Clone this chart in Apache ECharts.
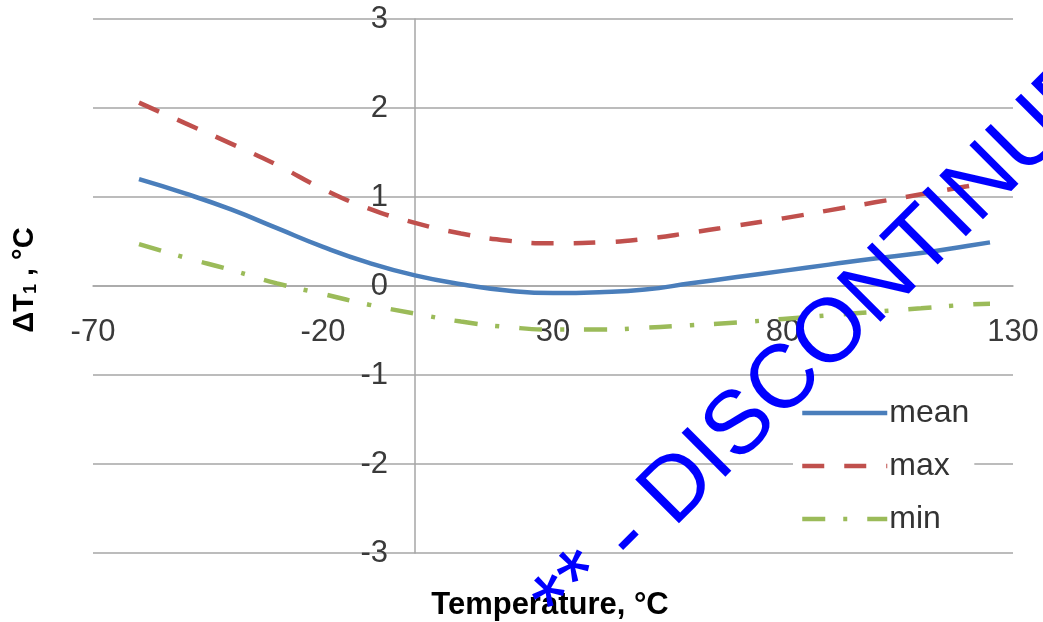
<!DOCTYPE html>
<html>
<head>
<meta charset="utf-8">
<script src="https://cdn.jsdelivr.net/npm/echarts@6/dist/echarts.min.js"></script>
<style>
  html, body { margin: 0; padding: 0; background: #fff; }
  #chart-container { width: 1043px; height: 622px; }
</style>
</head>
<body>
<div id="chart-container"></div>
<script>
// temperature, deg C
var temps = [-60, -50, -40, -30, -20, -10, 0, 10, 20, 30, 40, 50, 60, 70, 80, 90, 100, 110, 120, 125];
var meanVals = [1.20, 1.04, 0.86, 0.65, 0.44, 0.26, 0.12, 0.02, -0.05, -0.08, -0.07, -0.04, 0.03, 0.10, 0.17, 0.24, 0.31, 0.37, 0.45, 0.49];
var maxVals = [2.06, 1.83, 1.60, 1.36, 1.09, 0.87, 0.71, 0.59, 0.51, 0.48, 0.49, 0.53, 0.60, 0.68, 0.76, 0.85, 0.94, 1.03, 1.12, 1.17];
var minVals = [0.47, 0.32, 0.18, 0.03, -0.09, -0.21, -0.31, -0.40, -0.46, -0.49, -0.49, -0.47, -0.44, -0.41, -0.37, -0.33, -0.29, -0.25, -0.21, -0.20];
var seriesNames = ["mean", "max", "min"];

function pairs(vals) {
  return temps.map(function (t, i) { return [t, vals[i]]; });
}

var dom = document.getElementById("chart-container");
var myChart = echarts.init(dom);
var font = "'Liberation Sans', Arial, sans-serif";
var option = {
  backgroundColor: "#fff",
  animation: false,
  grid: { left: 93, right: 30, top: 19, bottom: 69 },
  legend: {
    orient: "vertical",
    left: 793,
    top: 393,
    padding: [4, 5, 4, 7],
    backgroundColor: "#fff",
    itemWidth: 85,
    itemHeight: 14,
    itemGap: 21,
    data: seriesNames,
    itemStyle: { opacity: 0 },
    lineStyle: { width: 4.5 },
    textStyle: { fontFamily: font, fontSize: 32, color: "#333", padding: [0, 0, 0, -3] }
  },
  xAxis: {
    type: "value",
    min: -70,
    max: 130,
    interval: 50,
    position: "bottom",
    offset: -267,
    axisLine: { onZero: false, lineStyle: { color: "#a6a6a6", width: 1.5 } },
    axisTick: { show: false },
    splitLine: { show: false },
    axisLabel: { margin: 31, fontFamily: font, fontSize: 31, color: "#3a3a3a" }
  },
  yAxis: {
    type: "value",
    min: -3,
    max: 3,
    interval: 1,
    position: "left",
    offset: -322,
    axisLine: { show: true, onZero: false, lineStyle: { color: "#a6a6a6", width: 1.5 } },
    axisTick: { show: false },
    splitLine: { lineStyle: { color: "#a6a6a6", width: 1.5 } },
    axisLabel: { margin: 27, fontFamily: font, fontSize: 31, color: "#3a3a3a" }
  },
  graphic: [
    {
      type: "text",
      x: 550,
      y: 605,
      style: {
        text: "Temperature, °C",
        font: "bold 31px " + font,
        fill: "#000",
        textAlign: "center",
        textVerticalAlign: "middle"
      }
    },
    {
      type: "text",
      x: 25,
      y: 280,
      rotation: Math.PI / 2,
      style: {
        text: "{a|ΔT}{s|1}{a| , °C}",
        textAlign: "center",
        textVerticalAlign: "middle",
        rich: {
          a: { fontFamily: font, fontWeight: "bold", fontSize: 29, color: "#000" },
          s: { fontFamily: font, fontWeight: "bold", fontSize: 18, color: "#000", padding: [12, 0, 0, 0] }
        }
      }
    },
    {
      type: "text",
      x: 550,
      y: 617,
      z: 100,
      rotation: Math.PI / 4,
      style: {
        text: "** - DISCONTINUED",
        font: "90px " + font,
        fill: "#0000ff",
        textAlign: "left",
        textVerticalAlign: "middle"
      }
    }
  ],
  series: [
    {
      name: "mean",
      type: "line",
      smooth: true,
      symbol: "none",
      data: pairs(meanVals),
      lineStyle: { color: "#4a7ebb", width: 4.5 },
      itemStyle: { color: "#4a7ebb" }
    },
    {
      name: "max",
      type: "line",
      smooth: true,
      symbol: "none",
      data: pairs(maxVals),
      lineStyle: { color: "#c0504d", width: 4.5, type: [22, 20] },
      itemStyle: { color: "#c0504d" }
    },
    {
      name: "min",
      type: "line",
      smooth: true,
      symbol: "none",
      data: pairs(minVals),
      lineStyle: { color: "#9bbb59", width: 4.5, type: [23, 18, 4, 20] },
      itemStyle: { color: "#9bbb59" }
    }
  ]
};
if (option && typeof option === "object") {
  myChart.setOption(option, true);
}
</script>
</body>
</html>
